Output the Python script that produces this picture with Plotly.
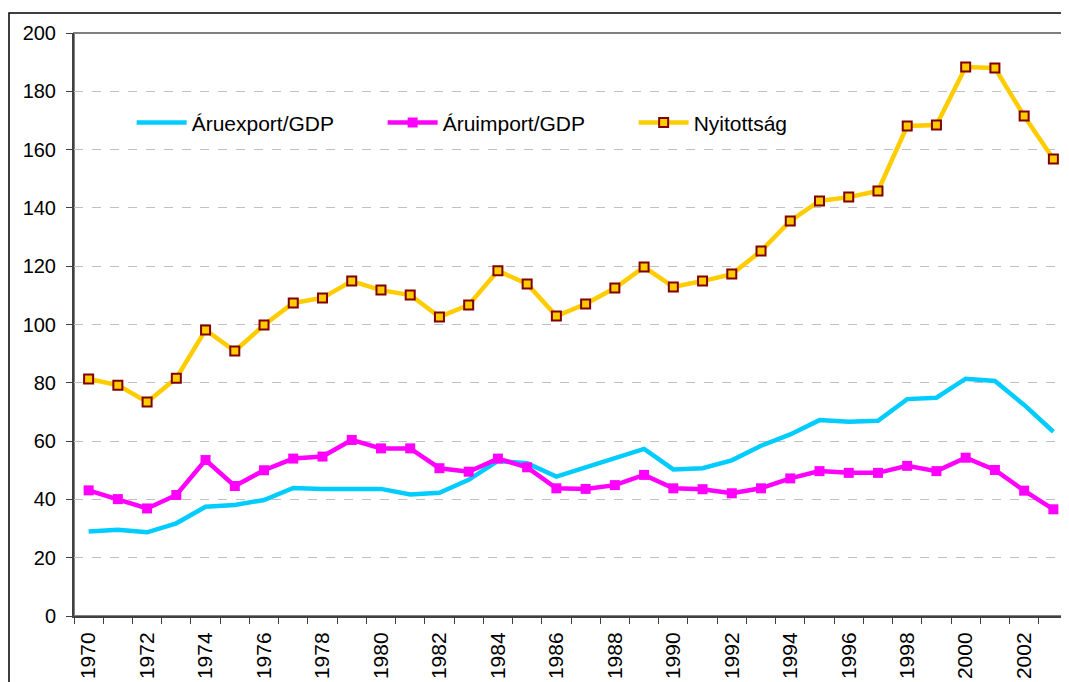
import plotly.graph_objects as go

years = list(range(1970, 2004))

export_gdp = [29.0, 29.6, 28.7, 31.8, 37.5, 38.1, 39.8, 43.9, 43.6, 43.7,
              43.6, 41.7, 42.3, 46.7, 53.2, 52.4, 47.8, 51.0, 54.3, 57.3,
              50.3, 50.7, 53.4, 58.4, 62.3, 67.2, 66.6, 67.0, 74.4, 74.9,
              81.4, 80.6, 72.4, 63.2]

import_gdp = [43.1, 40.1, 36.9, 41.5, 53.5, 44.6, 50.0, 54.0, 54.7, 60.4,
              57.5, 57.5, 50.7, 49.5, 54.0, 51.0, 43.8, 43.6, 44.9, 48.4,
              43.8, 43.5, 42.1, 43.8, 47.2, 49.7, 49.1, 49.1, 51.5, 49.7,
              54.3, 50.1, 43.0, 36.6]

nyitottsag = [81.3, 79.2, 73.4, 81.6, 98.1, 90.9, 99.8, 107.4, 109.1, 114.9,
              111.8, 110.1, 102.6, 106.7, 118.4, 113.9, 102.9, 107.0, 112.5, 119.7,
              112.9, 114.9, 117.3, 125.2, 135.5, 142.4, 143.7, 145.8, 168.1, 168.4,
              188.3, 188.0, 171.5, 156.8]

even_years = [y for y in years if y % 2 == 0]
boundaries = [y - 0.5 for y in years] + [years[-1] + 0.5]

FONT = "Liberation Sans, Arial, sans-serif"

fig = go.Figure()
fig.add_trace(go.Scatter(x=years, y=export_gdp, name="Áruexport/GDP", mode="lines",
                         line=dict(color="#00CCFF", width=4.5)))
fig.add_trace(go.Scatter(x=years, y=import_gdp, name="Áruimport/GDP", mode="lines+markers",
                         line=dict(color="#FF00FF", width=4.5),
                         marker=dict(symbol="square", size=10, color="#FF00FF")))
fig.add_trace(go.Scatter(x=years, y=nyitottsag, name="Nyitottság", mode="lines+markers",
                         line=dict(color="#FFCC00", width=4.5),
                         marker=dict(symbol="square", size=9, color="#FFCC00",
                                     line=dict(color="#800000", width=2))))

# page body has an 8px margin, so the figure is sized / offset to compensate
fig.update_layout(
    width=1061, height=674,
    margin=dict(l=66, r=1, t=25, b=66),
    paper_bgcolor="white", plot_bgcolor="white",
    font=dict(family=FONT, size=20, color="black"),
    showlegend=True,
    legend=dict(orientation="h", x=0.058, y=0.846, xanchor="left", yanchor="middle",
                font=dict(size=21), bgcolor="rgba(0,0,0,0)", itemwidth=50,
                entrywidth=186, traceorder="normal"),
    shapes=[
        dict(type="rect", xref="paper", yref="paper", x0=0, x1=1, y0=0, y1=1,
             line=dict(color="#808080", width=2), layer="below"),
        dict(type="rect", xref="paper", yref="paper", x0=-0.0654, x1=1.2, y0=-0.3, y1=1.0343,
             line=dict(color="black", width=1.5), layer="below"),
    ],
)

fig.update_xaxes(range=[1969.5, 2003.5], tickvals=even_years, ticks="", tickangle=-90,
                 tickfont=dict(size=21),
                 showgrid=False, zeroline=False, showline=True, linecolor="#404040", linewidth=2,
                 ticklabelstandoff=6,
                 minor=dict(tickvals=boundaries, ticks="outside", ticklen=6, tickcolor="#404040",
                            tickwidth=1, showgrid=False))
fig.update_yaxes(range=[0, 200], dtick=20, ticks="outside", ticklen=6, tickcolor="#404040",
                 showgrid=True, gridcolor="#C0C0C0", griddash="dash", gridwidth=1,
                 zeroline=False, showline=True, linecolor="#404040", linewidth=2,
                 ticklabelstandoff=6)

fig.write_html("out.html")
